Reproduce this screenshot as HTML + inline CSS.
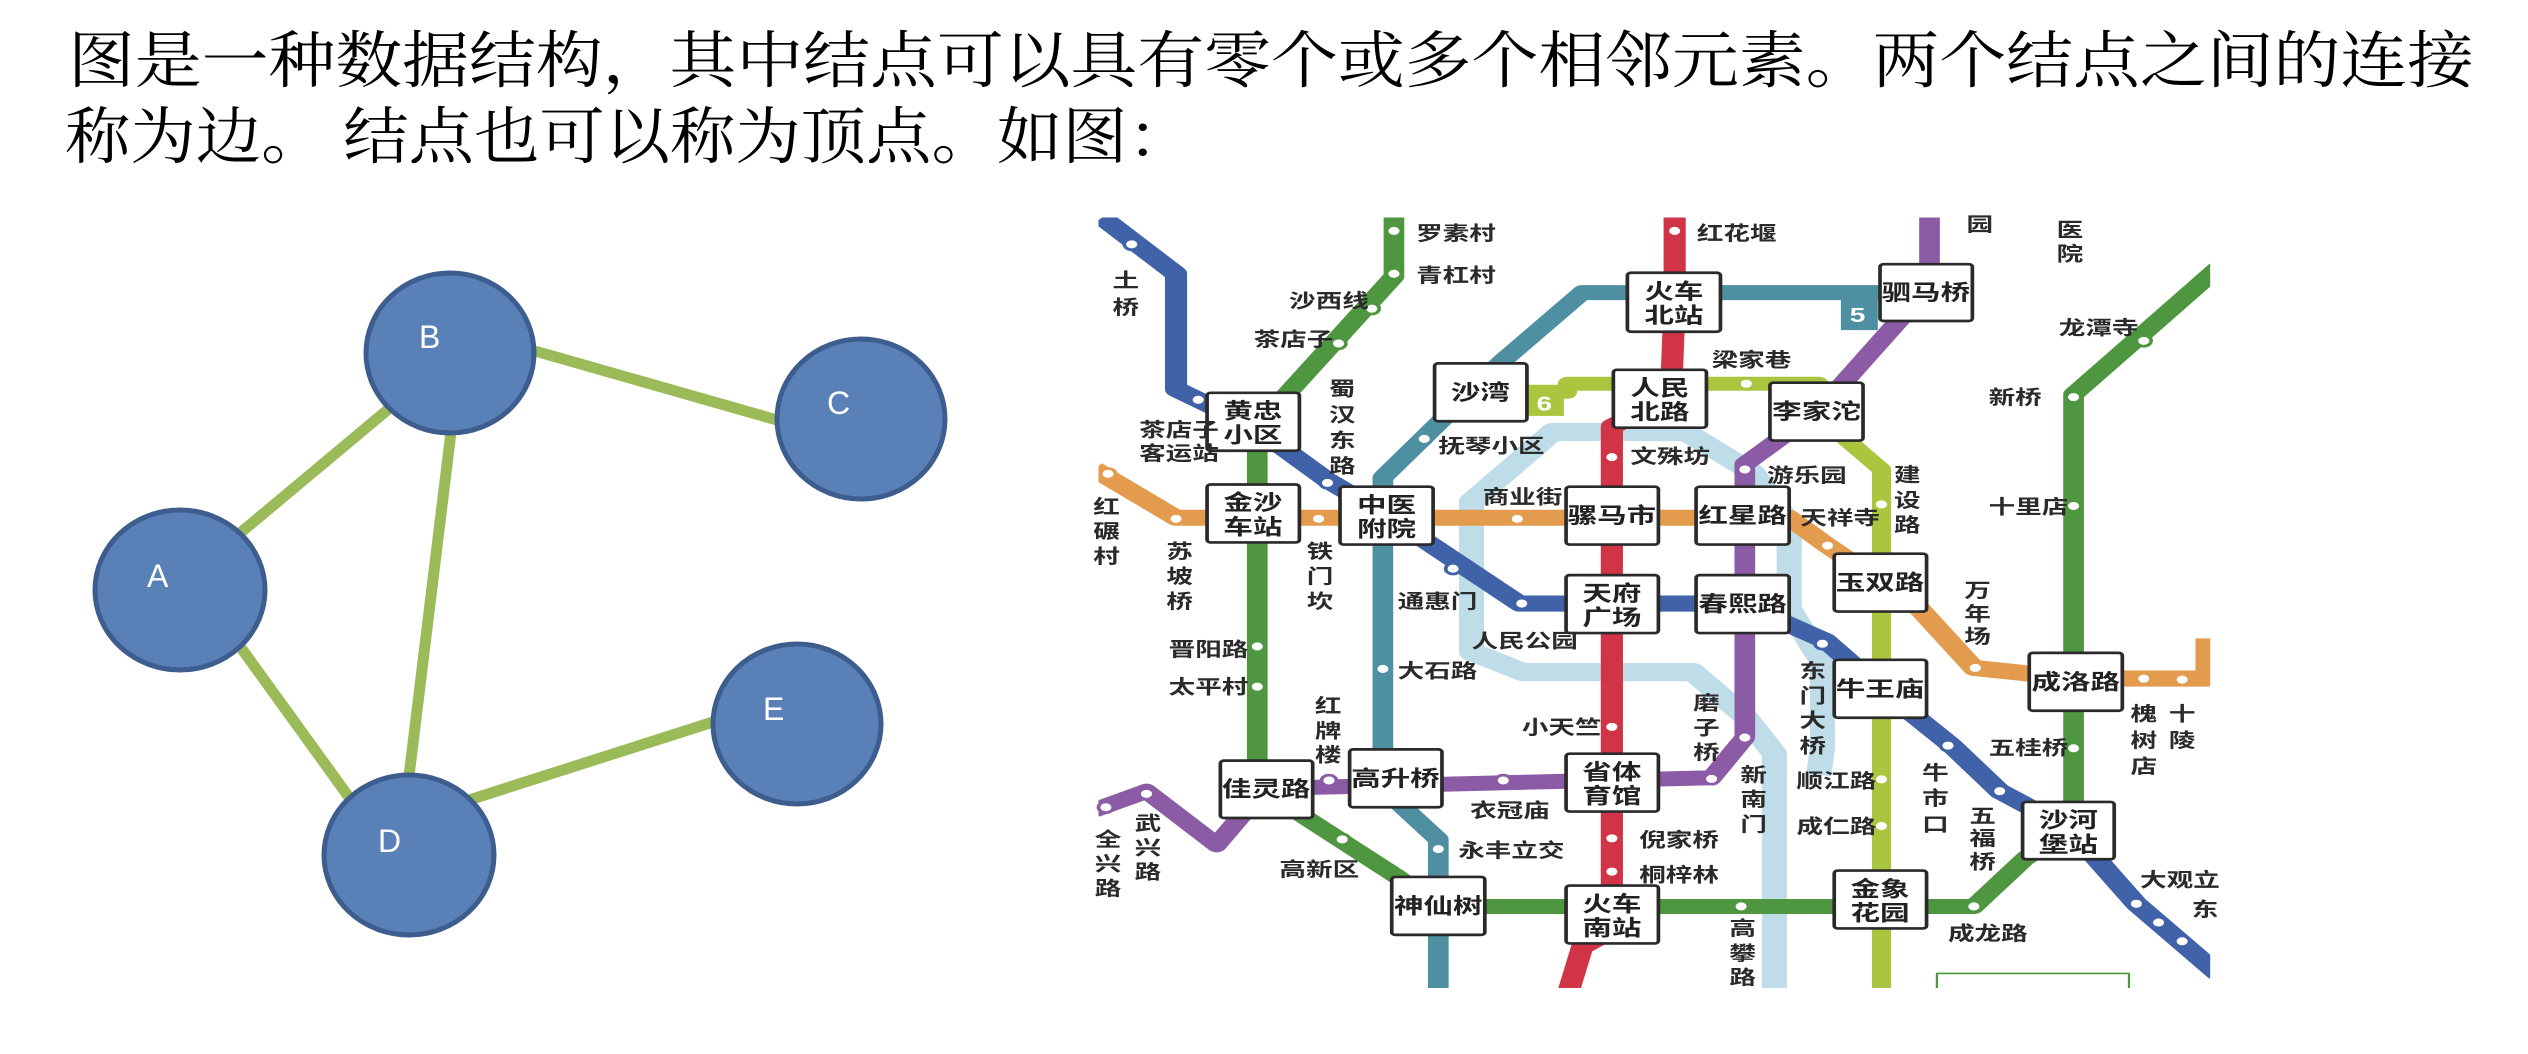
<!DOCTYPE html>
<html><head><meta charset="utf-8"><style>
html,body{margin:0;padding:0;background:#fff;}
body{width:2528px;height:1054px;position:relative;overflow:hidden;}
</style></head><body>
<svg style="position:absolute;left:0;top:0" width="2528" height="180" viewBox="0 0 2528 180">
<g font-family="'Noto Serif CJK SC','Liberation Serif',serif" font-size="62" fill="#000">
<text x="68" y="82" textLength="2406" lengthAdjust="spacingAndGlyphs">图是一种数据结构，其中结点可以具有零个或多个相邻元素。两个结点之间的连接</text>
<text x="65" y="158" textLength="1128" lengthAdjust="spacingAndGlyphs">称为边。 结点也可以称为顶点。如图：</text>
</g>
</svg>

<svg style="position:absolute;left:0;top:0" width="1100" height="1054" viewBox="0 0 1100 1054">
<g stroke="#9BBB59" stroke-width="11">
<line x1="239" y1="534" x2="391" y2="407"/>
<line x1="535" y1="351" x2="777" y2="420"/>
<line x1="451" y1="432" x2="409" y2="776"/>
<line x1="239" y1="645" x2="351" y2="800"/>
<line x1="469" y1="800" x2="713" y2="722"/>
</g>
<g fill="#5A80B8" stroke="#3D5D8F" stroke-width="5">
<ellipse cx="450" cy="353" rx="84" ry="80"/>
<ellipse cx="861" cy="419" rx="84" ry="80"/>
<ellipse cx="180" cy="590" rx="85" ry="80"/>
<ellipse cx="797" cy="724" rx="84" ry="80"/>
<ellipse cx="409" cy="855" rx="85" ry="80"/>
</g>
<g fill="#fff" font-family="Liberation Sans,sans-serif" font-size="32">
<text x="419" y="348">B</text>
<text x="827" y="414">C</text>
<text x="147" y="587">A</text>
<text x="763" y="720">E</text>
<text x="378" y="852">D</text>
</g>
</svg>

<svg style="position:absolute;left:1080px;top:180px" width="1145" height="831" viewBox="0 0 1550 1550" preserveAspectRatio="none">
<defs><clipPath id="c"><rect x="25" y="70" width="1505" height="1437"/></clipPath></defs>
<g clip-path="url(#c)" fill="none" stroke-linejoin="round">
<path d="M940 1510 L940 1070 L900 1000 L830 918 L600 918 L530 880 L530 600 L640 470 L820 470 L910 545 L960 640 L960 800 L1005 900 L1005 1060 L1000 1110" stroke="#BEDDE8" stroke-width="34"/>
<path d="M30 70 L130 175 L130 390 L235 460 L335 560 L415 625 L595 790 L895 790 L1010 860 L1085 950 L1180 1055 L1245 1140 L1340 1210 L1430 1350 L1540 1480" stroke="#3F62A8" stroke-width="30"/>
<path d="M425 60 L425 180 L240 460 L240 1130 L250 1140 L430 1300 L485 1355 L1210 1355 L1280 1265 L1345 1210 L1345 400 L1540 165" stroke="#4F9640" stroke-width="28"/>
<path d="M20 540 L130 630 L960 630 L1010 680 L1085 750 L1130 790 L1210 910 L1350 930 L1525 930 L1525 855" stroke="#E39B4E" stroke-width="30"/>
<path d="M805 60 L805 225 L800 405 L720 460 L720 1400 L680 1430 L660 1520" stroke="#D13447" stroke-width="30"/>
<path d="M1145 210 L680 210 L570 340 L410 555 L410 1135 L485 1230 L485 1520" stroke="#4E8FA2" stroke-width="28"/>
<path d="M540 395 L660 395 L660 380 L1000 380 L1000 440 L1085 540 L1085 1520" stroke="#A9C63E" stroke-width="26"/>
<path d="M1150 60 L1150 180 L1110 260 L1000 430 L900 530 L900 1040 L855 1115 L250 1135 L185 1240 L90 1140 L20 1175" stroke="#8C5BA6" stroke-width="28"/>
<rect x="1160" y="1480" width="260" height="60" stroke="#4F9640" stroke-width="3"/>
</g>
<rect x="1030" y="215" width="50" height="65" fill="#4E8FA2"/>
<text x="1042" y="265" fill="#fff" font-family="Liberation Sans,sans-serif" font-weight="bold" font-size="38">5</text>
<rect x="605" y="385" width="50" height="55" fill="#A9C63E"/>
<text x="618" y="430" fill="#fff" font-family="Liberation Sans,sans-serif" font-weight="bold" font-size="38">6</text>
<g fill="#fff" stroke-width="5">
<g stroke="#4F9640"><circle cx="425" cy="95" r="10"/><circle cx="425" cy="175" r="10"/><circle cx="395" cy="240" r="10"/><circle cx="350" cy="305" r="10"/><circle cx="240" cy="870" r="10"/><circle cx="240" cy="945" r="10"/><circle cx="355" cy="1230" r="10"/><circle cx="895" cy="1355" r="10"/><circle cx="1210" cy="1355" r="10"/><circle cx="1345" cy="1060" r="10"/><circle cx="1345" cy="608" r="10"/><circle cx="1345" cy="405" r="10"/><circle cx="1440" cy="300" r="10"/></g>
<g stroke="#3F62A8"><circle cx="70" cy="120" r="10"/><circle cx="160" cy="410" r="10"/><circle cx="335" cy="565" r="10"/><circle cx="505" cy="725" r="10"/><circle cx="598" cy="790" r="10"/><circle cx="1005" cy="865" r="10"/><circle cx="1175" cy="1055" r="10"/><circle cx="1245" cy="1140" r="10"/><circle cx="1430" cy="1350" r="10"/><circle cx="1460" cy="1385" r="10"/><circle cx="1492" cy="1420" r="10"/></g>
<g stroke="#E39B4E"><circle cx="38" cy="548" r="10"/><circle cx="130" cy="632" r="10"/><circle cx="323" cy="632" r="10"/><circle cx="592" cy="632" r="10"/><circle cx="1012" cy="682" r="10"/><circle cx="1212" cy="910" r="10"/><circle cx="1440" cy="930" r="10"/><circle cx="1492" cy="932" r="10"/></g>
<g stroke="#D13447"><circle cx="805" cy="95" r="10"/><circle cx="720" cy="517" r="10"/><circle cx="720" cy="1020" r="10"/><circle cx="720" cy="1228" r="10"/><circle cx="720" cy="1290" r="10"/></g>
<g stroke="#4E8FA2"><circle cx="466" cy="483" r="10"/><circle cx="410" cy="912" r="10"/><circle cx="485" cy="1248" r="10"/></g>
<g stroke="#A9C63E"><circle cx="902" cy="380" r="10"/><circle cx="1085" cy="605" r="10"/><circle cx="1085" cy="1118" r="10"/><circle cx="1085" cy="1205" r="10"/></g>
<g stroke="#8C5BA6"><circle cx="900" cy="540" r="10"/><circle cx="900" cy="1040" r="10"/><circle cx="855" cy="1117" r="10"/><circle cx="573" cy="1120" r="10"/><circle cx="337" cy="1120" r="10"/><circle cx="90" cy="1145" r="10"/><circle cx="35" cy="1170" r="10"/></g>
</g>
<g fill="#fff" stroke="#2a2a2a" stroke-width="5">
<rect x="172" y="397" width="125" height="108" rx="5"/>
<rect x="172" y="568" width="125" height="108" rx="5"/>
<rect x="352" y="572" width="126" height="108" rx="5"/>
<rect x="480" y="342" width="125" height="108" rx="5"/>
<rect x="741" y="173" width="126" height="110" rx="5"/>
<rect x="722" y="354" width="126" height="108" rx="5"/>
<rect x="1083" y="157" width="125" height="106" rx="5"/>
<rect x="934" y="378" width="126" height="108" rx="5"/>
<rect x="658" y="572" width="125" height="108" rx="5"/>
<rect x="834" y="572" width="126" height="108" rx="5"/>
<rect x="658" y="737" width="125" height="108" rx="5"/>
<rect x="834" y="737" width="126" height="108" rx="5"/>
<rect x="1021" y="697" width="125" height="108" rx="5"/>
<rect x="1021" y="895" width="125" height="108" rx="5"/>
<rect x="1285" y="882" width="126" height="108" rx="5"/>
<rect x="190" y="1083" width="125" height="107" rx="5"/>
<rect x="365" y="1062" width="125" height="108" rx="5"/>
<rect x="658" y="1070" width="125" height="108" rx="5"/>
<rect x="1276" y="1160" width="124" height="107" rx="5"/>
<rect x="422" y="1300" width="126" height="108" rx="5"/>
<rect x="658" y="1316" width="125" height="108" rx="5"/>
<rect x="1021" y="1288" width="125" height="108" rx="5"/>
</g>
<g fill="#222" font-family="Liberation Sans,'Noto Sans CJK SC',sans-serif" font-weight="bold" font-size="40" text-anchor="middle">
<text x="234" y="445">黄忠</text><text x="234" y="490">小区</text>
<text x="234" y="616">金沙</text><text x="234" y="661">车站</text>
<text x="415" y="620">中医</text><text x="415" y="665">附院</text>
<text x="542" y="410">沙湾</text>
<text x="804" y="222">火车</text><text x="804" y="267">北站</text>
<text x="785" y="402">人民</text><text x="785" y="447">北路</text>
<text x="1145" y="224">驷马桥</text>
<text x="997" y="446">李家沱</text>
<text x="720" y="640">骡马市</text>
<text x="897" y="640">红星路</text>
<text x="720" y="785">天府</text><text x="720" y="830">广场</text>
<text x="897" y="805">春熙路</text>
<text x="1083" y="765">玉双路</text>
<text x="1083" y="963">牛王庙</text>
<text x="1348" y="950">成洛路</text>
<text x="252" y="1150">佳灵路</text>
<text x="427" y="1130">高升桥</text>
<text x="720" y="1118">省体</text><text x="720" y="1163">育馆</text>
<text x="1338" y="1208">沙河</text><text x="1338" y="1253">堡站</text>
<text x="485" y="1368">神仙树</text>
<text x="720" y="1364">火车</text><text x="720" y="1409">南站</text>
<text x="1083" y="1336">金象</text><text x="1083" y="1381">花园</text>
</g>
<g fill="#2a2a2a" font-family="Liberation Sans,'Noto Sans CJK SC',sans-serif" font-weight="bold" font-size="36">
<text x="455" y="112">罗素村</text><text x="455" y="190">青杠村</text><text x="283" y="238">沙西线</text><text x="235" y="310">茶店子</text>
<text x="80" y="478">茶店子</text><text x="80" y="522">客运站</text>
<text x="485" y="508">抚琴小区</text><text x="835" y="112">红花堰</text><text x="855" y="348">梁家巷</text>
<text x="745" y="528">文殊坊</text><text x="930" y="563">游乐园</text><text x="1325" y="288">龙潭寺</text>
<text x="1230" y="418">新桥</text><text x="1230" y="622">十里店</text><text x="545" y="603">商业街</text>
<text x="975" y="643">天祥寺</text><text x="430" y="798">通惠门</text><text x="530" y="872">人民公园</text>
<text x="120" y="888">晋阳路</text><text x="120" y="958">太平村</text><text x="430" y="928">大石路</text>
<text x="598" y="1033">小天竺</text><text x="1230" y="1072">五桂桥</text><text x="970" y="1133">顺江路</text>
<text x="970" y="1218">成仁路</text><text x="528" y="1188">衣冠庙</text><text x="512" y="1263">永丰立交</text>
<text x="757" y="1243">倪家桥</text><text x="757" y="1308">桐梓林</text><text x="270" y="1298">高新区</text>
<text x="1175" y="1418">成龙路</text><text x="1435" y="1318">大观立</text><text x="1505" y="1373">东</text>
<text x="1200" y="95">园</text>
</g>
<g fill="#2a2a2a" font-family="Liberation Sans,'Noto Sans CJK SC',sans-serif" font-weight="bold" font-size="36" text-anchor="middle">
<text><tspan x="62" y="200">土</tspan><tspan x="62" y="250">桥</tspan></text>
<text><tspan x="355" y="402">蜀</tspan><tspan x="355" y="450">汉</tspan><tspan x="355" y="498">东</tspan><tspan x="355" y="546">路</tspan></text>
<text><tspan x="1120" y="562">建</tspan><tspan x="1120" y="610">设</tspan><tspan x="1120" y="656">路</tspan></text>
<text><tspan x="1340" y="105">医</tspan><tspan x="1340" y="150">院</tspan></text>
<text><tspan x="36" y="622">红</tspan><tspan x="36" y="668">碾</tspan><tspan x="36" y="714">村</tspan></text>
<text><tspan x="135" y="705">苏</tspan><tspan x="135" y="752">坡</tspan><tspan x="135" y="798">桥</tspan></text>
<text><tspan x="325" y="705">铁</tspan><tspan x="325" y="752">门</tspan><tspan x="325" y="798">坎</tspan></text>
<text><tspan x="1215" y="778">万</tspan><tspan x="1215" y="822">年</tspan><tspan x="1215" y="864">场</tspan></text>
<text><tspan x="992" y="928">东</tspan><tspan x="992" y="975">门</tspan><tspan x="992" y="1020">大</tspan><tspan x="992" y="1068">桥</tspan></text>
<text><tspan x="336" y="993">红</tspan><tspan x="336" y="1040">牌</tspan><tspan x="336" y="1085">楼</tspan></text>
<text><tspan x="848" y="988">磨</tspan><tspan x="848" y="1034">子</tspan><tspan x="848" y="1080">桥</tspan></text>
<text><tspan x="1440" y="1008">槐</tspan><tspan x="1440" y="1058">树</tspan><tspan x="1440" y="1106">店</tspan></text>
<text><tspan x="1492" y="1008">十</tspan><tspan x="1492" y="1058">陵</tspan></text>
<text><tspan x="1158" y="1118">牛</tspan><tspan x="1158" y="1166">市</tspan><tspan x="1158" y="1214">口</tspan></text>
<text><tspan x="912" y="1122">新</tspan><tspan x="912" y="1168">南</tspan><tspan x="912" y="1214">门</tspan></text>
<text><tspan x="1222" y="1198">五</tspan><tspan x="1222" y="1240">福</tspan><tspan x="1222" y="1284">桥</tspan></text>
<text><tspan x="92" y="1212">武</tspan><tspan x="92" y="1258">兴</tspan><tspan x="92" y="1303">路</tspan></text>
<text><tspan x="38" y="1242">全</tspan><tspan x="38" y="1288">兴</tspan><tspan x="38" y="1334">路</tspan></text>
<text><tspan x="897" y="1408">高</tspan><tspan x="897" y="1455">攀</tspan><tspan x="897" y="1500">路</tspan></text>
</g>
</svg>
</body></html>
